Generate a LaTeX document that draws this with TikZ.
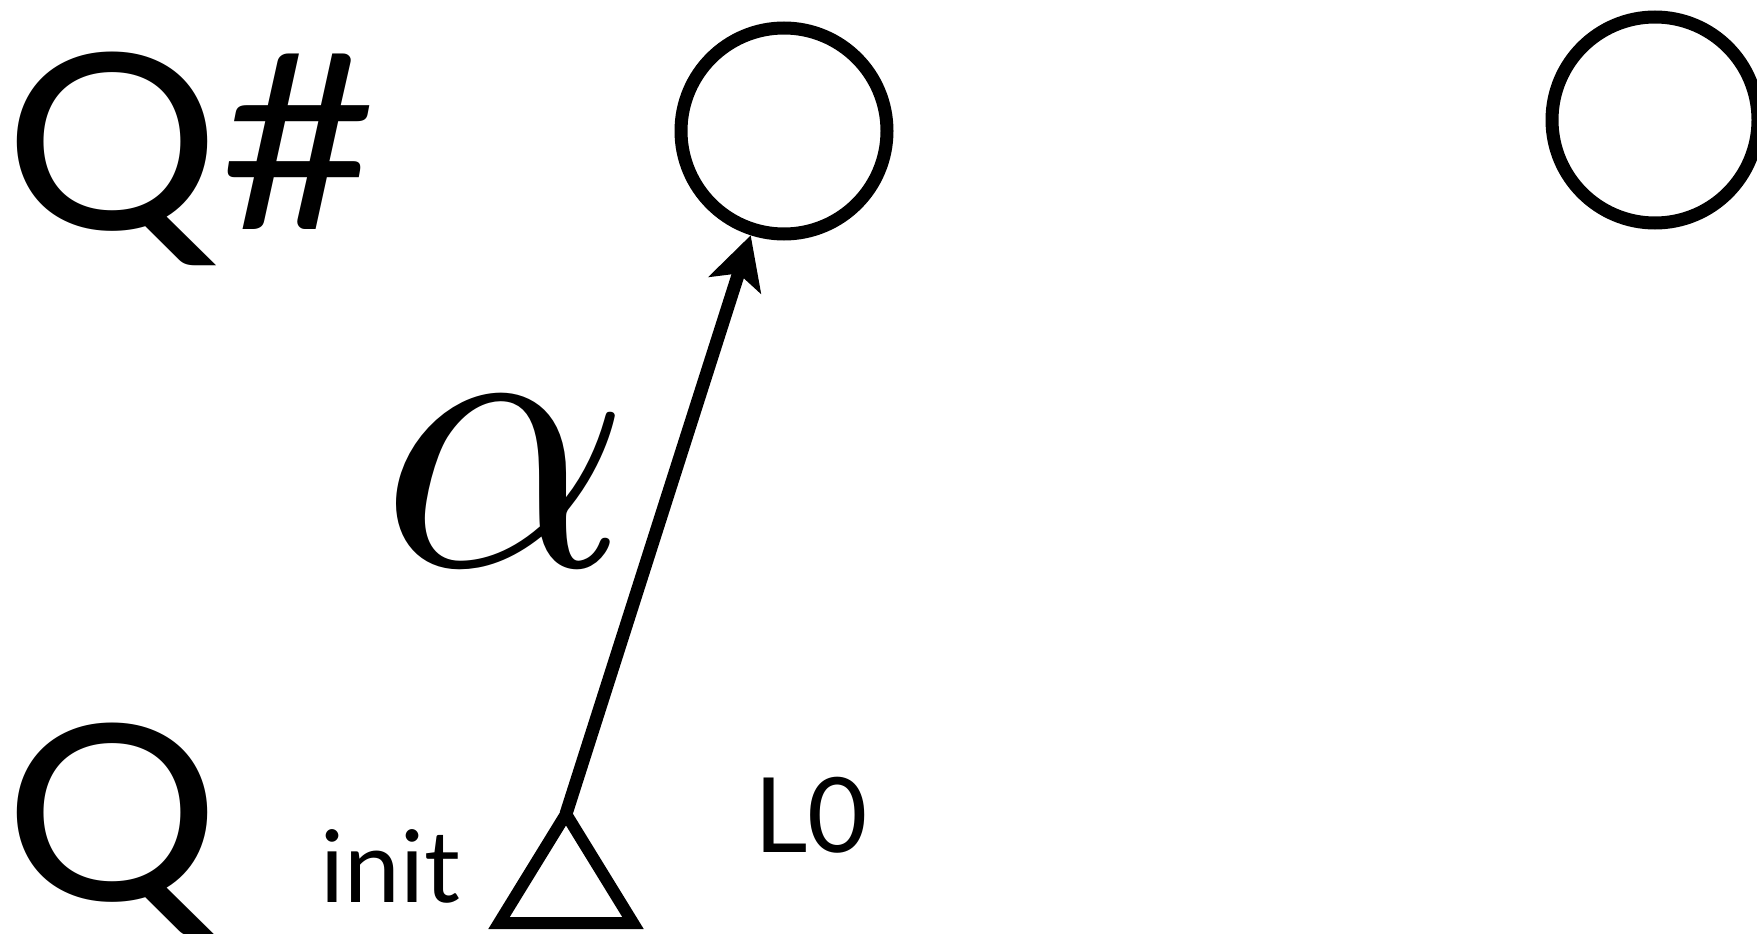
\documentclass[tikz,border=0pt]{standalone}
\usepackage{fontspec}
\setmainfont{Lato}
\usetikzlibrary{arrows.meta}
\begin{document}
\begin{tikzpicture}[x=1pt,y=-1pt,
  state/.style={draw, circle, line width=13pt, minimum size=206pt, inner sep=0pt},
  bigtext/.style={inner sep=0pt, font=\fontsize{245}{250}\selectfont},
  lbl/.style={inner sep=0pt, font=\fontsize{100}{110}\selectfont},
  conn/.style={line width=13pt, -{Stealth[length=52pt,width=54pt,inset=12pt]}},
  tri/.style={line width=12pt, line join=miter}]
\useasboundingbox (0,0) rectangle (1757,934);
\node[bigtext, anchor=base west] (qsharp) at (4,229) {\scalebox{1.1}[1]{Q\#}};
\node[bigtext, anchor=base west] (q) at (4,900) {\scalebox{1.1}[1]{Q}};
\node[state] (c1) at (784,131) {};
\node[state] (c2) at (1655,120) {};
\node[inner sep=0pt] (alpha) at (506,482) {\scalebox{39}{$\alpha$}};
\node[lbl, anchor=base west] (init) at (320,902) {init};
\node[inner sep=0pt, font=\fontsize{104}{112}\selectfont, anchor=base west] (l0) at (754,852) {L0};
\coordinate (start) at (566,814);
\draw[tri] (start) -- (499,923) -- (633,923) -- cycle;
\draw[conn] (start) -- (c1);
\end{tikzpicture}
\end{document}
